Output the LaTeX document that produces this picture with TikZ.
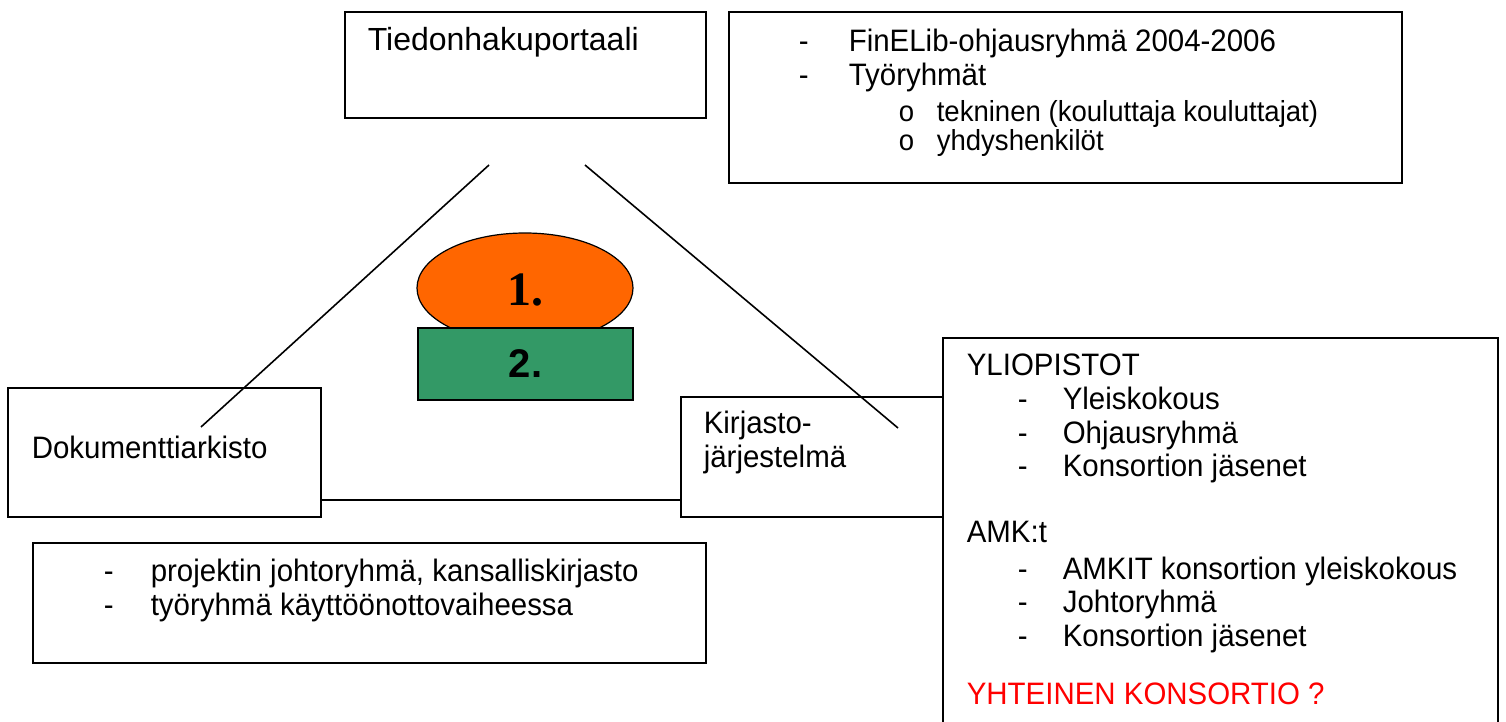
\documentclass[tikz,border=0pt]{standalone}
\usepackage{fontspec}
\setmainfont{Liberation Sans}
\newfontfamily\narrowfont[FakeStretch=0.95]{Liberation Sans}
\newfontfamily\timesfont{Liberation Serif}
\usetikzlibrary{shapes.geometric,fit}
\definecolor{portalorange}{HTML}{FF6600}
\definecolor{layergreen}{HTML}{339966}
\definecolor{askred}{HTML}{FF0000}
\def\px{0.5pt}

\begin{document}
\begin{tikzpicture}[x=\px,y=-\px,line width=0.8pt]
    \tikzstyle{every node}=[font=\fontsize{16}{19}\selectfont]
    \tikzstyle{box}=[draw,rectangle,inner sep=0pt,fill=white]
    \tikzstyle{txt}=[anchor=west,inner sep=0pt,text height=0.72em,text depth=0.21em,font=\narrowfont\fontsize{15.5}{18}\selectfont]
    \tikzstyle{subtxt}=[txt,font=\narrowfont\fontsize{14.5}{17}\selectfont]
    \tikzstyle{level}=[draw,line width=0.6pt,inner sep=0pt]

    \useasboundingbox (0,0) rectangle (1506,722);

    % Corner boxes of the triangle
    \node[box,fit={(345,12) (706,118)}] (portal) {};
    \node[box,fit={(8,388) (321,517)}] (doc) {};
    \node[box,fit={(681,397) (943,517)}] (kir) {};

    \node[txt,font=\fontsize{16}{19}\selectfont] (portal-t) at (367,45) {Tiedonhakuportaali};
    \node[txt] (doc-t) at (31,453) {Dokumenttiarkisto};
    \node[txt] (kir-t1) at (703,428) {Kirjasto-};
    \node[txt] (kir-t2) at (703,462) {järjestelmä};

    % Sides of the triangle
    \coordinate (p-left) at (489,165);
    \coordinate (d-top) at (201,427);
    \coordinate (p-right) at (585,165);
    \coordinate (k-top) at (898,428);
    \coordinate (base) at (0,500);
    \draw (p-left) -- (d-top);
    \draw (p-right) -- (k-top);
    \draw (doc.east |- base) -- (kir.west |- base);

    % Levels 1. and 2.
    \node[level,ellipse,fill=portalorange,minimum width=108pt,minimum height=55pt] (one) at (525,288) {};
    \node[font=\timesfont\bfseries\fontsize{24}{28}\selectfont] (one-t) at (525,290) {1.};
    \node[level,fill=layergreen,fit={(418,328) (633,400)}] (two) {};
    \node[font=\bfseries\fontsize{20}{24}\selectfont] (two-t) at (two.center) {2.};

    % FinELib box
    \node[box,fit={(729,12) (1402,183)}] (fin) {};
    \foreach \txt/\y in {FinELib-ohjausryhmä 2004-2006/46, Työryhmät/80}
    {
        \node[txt] at (798,\y) {-};
        \node[txt] at (848,\y) {\txt};
    }
    \foreach \txt/\y in {tekninen (kouluttaja kouluttajat)/116, yhdyshenkilöt/145}
    {
        \node[subtxt] at (898,\y) {o};
        \node[subtxt] at (936,\y) {\txt};
    }

    % Project box
    \node[box,fit={(33,543) (706,663)}] (proj) {};
    \foreach \txt/\y in {{projektin johtoryhmä, kansalliskirjasto}/576, työryhmä käyttöönottovaiheessa/610}
    {
        \node[txt] at (103,\y) {-};
        \node[txt] at (150,\y) {\txt};
    }

    % Consortium box
    \node[box,fit={(943,338) (1498,740)}] (kons) {};
    \node[txt] (yo) at (966,370) {YLIOPISTOT};
    \foreach \txt/\y in {Yleiskokous/404, Ohjausryhmä/438, Konsortion jäsenet/471}
    {
        \node[txt] at (1017,\y) {-};
        \node[txt] at (1062,\y) {\txt};
    }
    \node[txt] (amk) at (966,537) {AMK:t};
    \foreach \txt/\y in {AMKIT konsortion yleiskokous/574, Johtoryhmä/607, Konsortion jäsenet/641}
    {
        \node[txt] at (1017,\y) {-};
        \node[txt] at (1062,\y) {\txt};
    }
    \node[txt,text=askred] (yht) at (966,699) {YHTEINEN KONSORTIO ?};
\end{tikzpicture}
\end{document}
